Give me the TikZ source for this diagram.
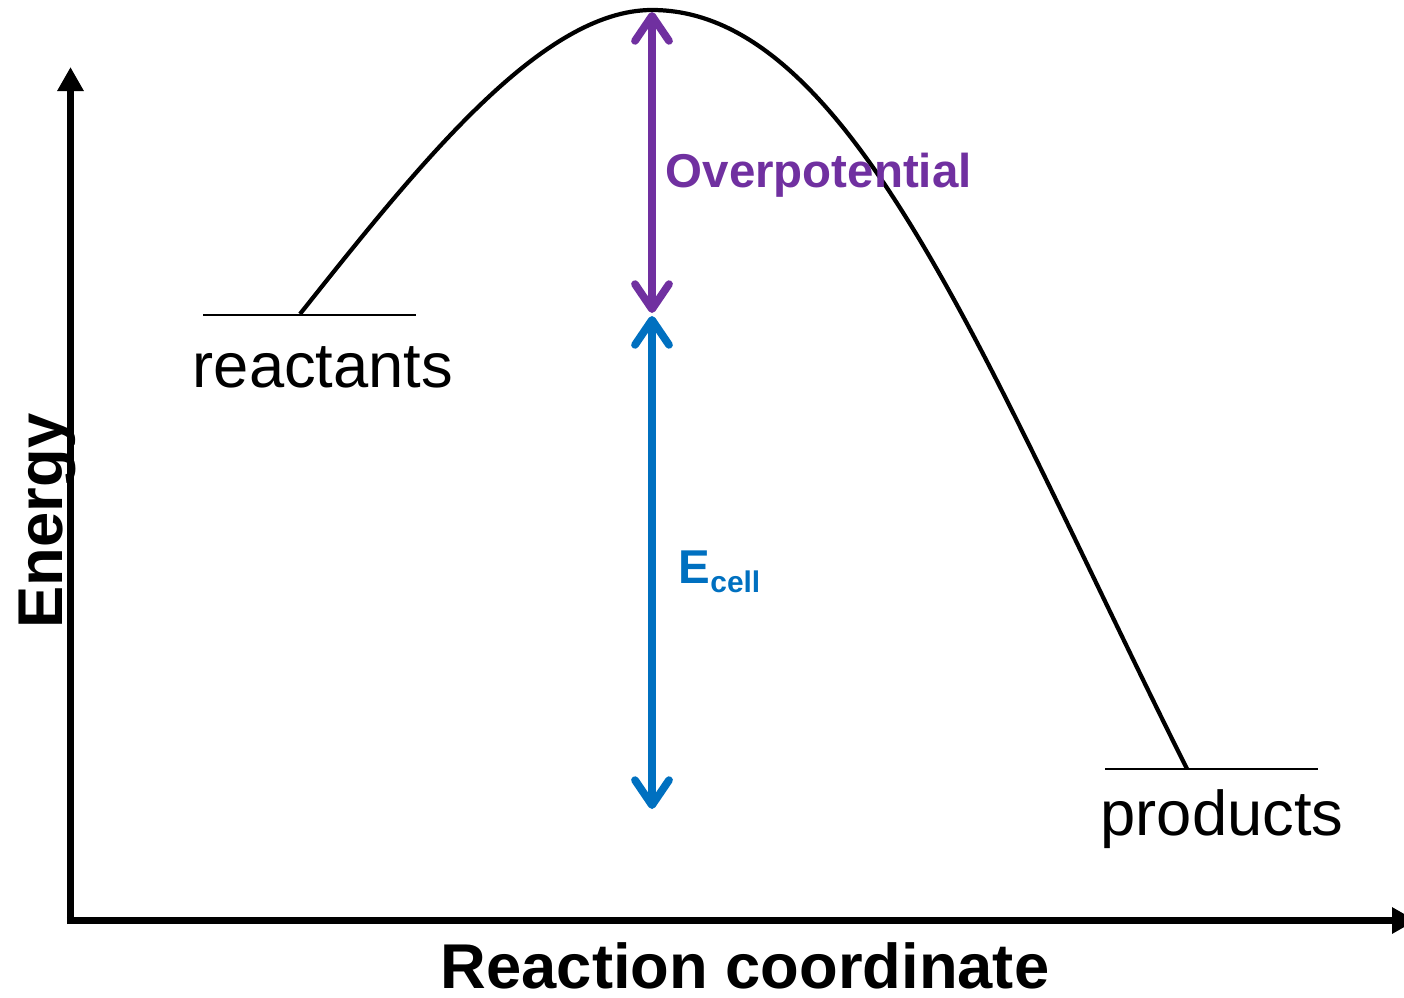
\documentclass[tikz,border=0pt]{standalone}
\usepackage{fontspec}
\setmainfont{Liberation Sans}
\usetikzlibrary{arrows.meta,positioning}
\definecolor{overpurple}{HTML}{7030A0}
\definecolor{cellblue}{HTML}{0070C0}
\tikzset{
  axis/.style={
    line width = 2.1pt,
    -{Triangle[length=0.24cm,width=0.25cm]}
  },
  levelline/.style={
    line width = 0.6pt
  },
  barrier/.style={
    line width = 1.2pt
  },
  gaparrow/.style={
    line width = 2.2pt,
    line cap = round,
    {Straight Barb[length=0.25cm,width=0.34cm,round]}-{Straight Barb[length=0.25cm,width=0.34cm,round]}
  },
  big/.style={
    font = \fontsize{18}{20}\selectfont,
    inner sep = 0pt
  },
  mid/.style={
    font = \bfseries\fontsize{13.5}{15}\selectfont,
    inner sep = 0pt
  },
}
\begin{document}
\begin{tikzpicture}[x=0.01cm, y=-0.01cm]
  \useasboundingbox (0,0) rectangle (1404,997);
  % axes
  \coordinate (origin) at (70.5,920.5);
  \coordinate (ytop) at (70.5,67);
  \coordinate (xend) at (1416,920.5);
  \draw[axis] ([yshift=-0.035cm]origin) -- (ytop);
  \draw[axis] ([xshift=-0.035cm]origin) -- (xend);
  \node[big, font=\bfseries\fontsize{18}{20}\selectfont, anchor=base] (xlab) at (745,988) {Reaction coordinate};
  \node[big, font=\bfseries\fontsize{18}{20}\selectfont, anchor=base, rotate=90] (ylab) at (62,521) {Energy};
  % levels
  \coordinate (rl) at (203,315);
  \coordinate (rr) at (416,315);
  \coordinate (pl) at (1105,769);
  \coordinate (pr) at (1318,769);
  \draw[levelline] (rl) -- (rr);
  \draw[levelline] (pl) -- (pr);
  \node[big, anchor=base] (react) at (323,387) {reactants};
  \node[big, anchor=base] (prod) at (1222,835) {products};
  % barrier
  \coordinate (rstart) at (300,314);
  \coordinate (peak) at (652,10);
  \coordinate (pend) at (1187,769);
  \draw[barrier] (rstart) .. controls (420,163) and (542,10) .. (peak)
    .. controls (852,10) and (987,369) .. (pend);
  % gaps
  \coordinate (otop) at (652,12);
  \coordinate (obot) at (652,313);
  \coordinate (etop) at (652,316);
  \coordinate (ebot) at (652,809);
  \draw[gaparrow, overpurple] (obot) -- (otop);
  \draw[gaparrow, cellblue] (ebot) -- (etop);
  \node[mid, overpurple, anchor=base west] (over) at (665,187) {Overpotential};
  \node[mid, cellblue, anchor=base west] (ecell) at (678,583) {E\raisebox{-2.8pt}{\fontsize{8.5}{10}\selectfont cell}};
\end{tikzpicture}
\end{document}
